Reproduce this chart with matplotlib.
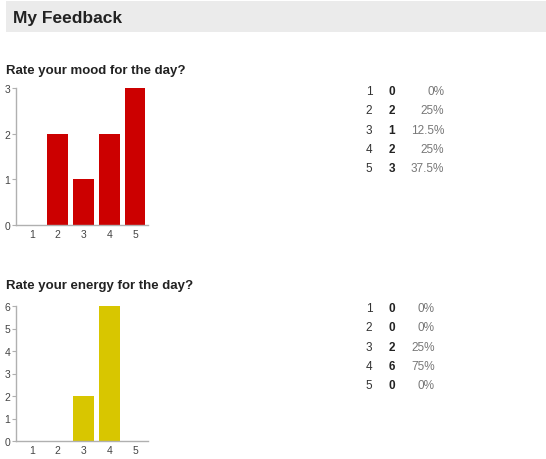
import matplotlib
matplotlib.use("Agg")
import matplotlib.pyplot as plt
from matplotlib.patches import Rectangle

plt.rcParams['font.family'] = ['Liberation Sans', 'DejaVu Sans']

ratings = [1, 2, 3, 4, 5]
mood_counts = [0, 2, 1, 2, 3]
mood_pcts = ["0%", "25%", "12.5%", "25%", "37.5%"]
energy_counts = [0, 0, 2, 6, 0]
energy_pcts = ["0%", "0%", "25%", "75%", "0%"]
page_title = "My Feedback"
q1 = "Rate your mood for the day?"
q2 = "Rate your energy for the day?"

W, H = 546, 460
fig = plt.figure(figsize=(W / 100, H / 100), dpi=100)
fig.patch.set_facecolor("white")

def px_axes(x0, y_top, x1, y_bot):
    return fig.add_axes([x0 / W, 1 - y_bot / H, (x1 - x0) / W, (y_bot - y_top) / H])

# header band
fig.patches.append(Rectangle((6 / W, 1 - 33 / H), 1 - 6 / W, 31 / H,
                             transform=fig.transFigure, facecolor="#ebebeb",
                             edgecolor="none", zorder=0))
fig.text(13 / W, 1 - 18 / H, page_title, fontsize=12.5, fontweight="bold",
         color="#222222", va="center", ha="left")

def draw_chart(y_top, y_bot, counts, color, ymax, title, title_y):
    fig.text(6 / W, 1 - title_y / H, title, fontsize=9.5, fontweight="bold",
             color="#222222", va="center", ha="left")
    ax = px_axes(16, y_top, 148, y_bot)
    ax.bar(ratings, counts, width=0.8, color=color, zorder=2)
    ax.set_xlim(0.39, 5.5)
    ax.set_ylim(0, ymax)
    ax.set_xticks(ratings)
    ax.set_yticks(range(0, ymax + 1))
    for s in ("top", "right"):
        ax.spines[s].set_visible(False)
    for s in ("left", "bottom"):
        ax.spines[s].set_color("#b0b0b0")
        ax.spines[s].set_linewidth(1)
    ax.tick_params(axis="y", length=3, width=0.8, color="#b0b0b0",
                   labelsize=7.5, labelcolor="#444444", pad=1)
    ax.tick_params(axis="x", length=0, labelsize=7.5, labelcolor="#444444", pad=3)
    ax.set_facecolor("white")
    return ax

def draw_table(rows_y, counts, pcts, pct_right):
    for r, c, p, y in zip(ratings, counts, pcts, rows_y):
        fig.text(369 / W, 1 - y / H, str(r), fontsize=8.5, color="#333333",
                 ha="center", va="center")
        fig.text(392 / W, 1 - y / H, str(c), fontsize=8.5, fontweight="bold",
                 color="#222222", ha="center", va="center")
        fig.text(pct_right / W, 1 - y / H, p, fontsize=8.5, color="#777777",
                 ha="right", va="center")

draw_chart(89, 226, mood_counts, "#cc0000", 3, q1, 71)
draw_table([92, 111, 131, 150, 169], mood_counts, mood_pcts, 444)

draw_chart(307, 442, energy_counts, "#d8c600", 6, q2, 286)
draw_table([309, 328, 348, 367, 386], energy_counts, energy_pcts, 435)

fig.savefig("out.png", dpi=100)
